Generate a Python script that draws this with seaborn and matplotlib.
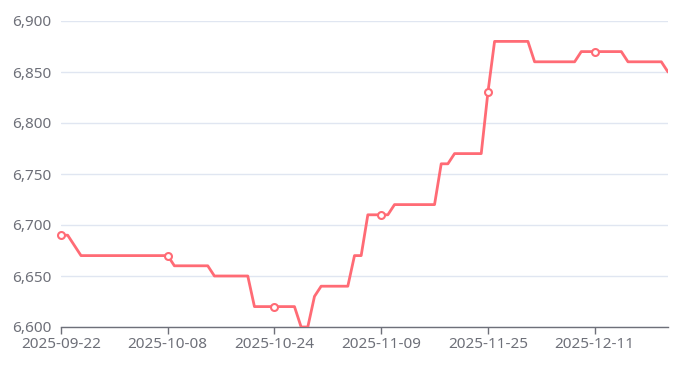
import matplotlib
matplotlib.use("Agg")
import matplotlib.pyplot as plt
import seaborn as sns
import pandas as pd
import numpy as np
from matplotlib.ticker import FuncFormatter, FixedLocator

start_date = "2025-09-22"
prices = [
    6690, 6690, 6680,
    6670, 6670, 6670, 6670, 6670, 6670, 6670, 6670, 6670, 6670, 6670, 6670, 6670, 6670,
    6660, 6660, 6660, 6660, 6660, 6660,
    6650, 6650, 6650, 6650, 6650, 6650,
    6620, 6620, 6620, 6620, 6620, 6620, 6620,
    6600, 6600,
    6630,
    6640, 6640, 6640, 6640, 6640,
    6670, 6670,
    6710, 6710, 6710, 6710,
    6720, 6720, 6720, 6720, 6720, 6720, 6720,
    6760, 6760,
    6770, 6770, 6770, 6770, 6770,
    6830,
    6880, 6880, 6880, 6880, 6880, 6880,
    6860, 6860, 6860, 6860, 6860, 6860, 6860,
    6870, 6870, 6870, 6870, 6870, 6870, 6870,
    6860, 6860, 6860, 6860, 6860, 6860,
    6850,
]
y_ticks = [6600, 6650, 6700, 6750, 6800, 6850, 6900]
label_step = 16

dates = pd.date_range(start_date, periods=len(prices), freq="D")
df = pd.DataFrame({"idx": np.arange(len(prices)), "date": dates.strftime("%Y-%m-%d"), "price": prices})

sns.set_theme(style="white")
plt.rcParams["font.family"] = ["Noto Sans", "DejaVu Sans"]

line_color = "#ff6b75"
text_color = "#6e7079"
grid_color = "#e0e6f1"

fig = plt.figure(figsize=(6.84, 3.66), dpi=100)
ax = fig.add_axes([61 / 684, 1 - 327 / 366, (668 - 61) / 684, (327 - 21) / 366])

sns.lineplot(data=df, x="idx", y="price", ax=ax, color=line_color, linewidth=2.0, zorder=3)
marked = df.iloc[::label_step]
ax.plot(marked["idx"], marked["price"], linestyle="none", marker="o", markersize=5,
        markerfacecolor="white", markeredgecolor=line_color, markeredgewidth=1.5, zorder=4,
        clip_on=False)

ax.set_xlim(0, len(prices) - 1)
ax.set_ylim(y_ticks[0], y_ticks[-1])
ax.yaxis.set_major_locator(FixedLocator(y_ticks))
ax.yaxis.set_major_formatter(FuncFormatter(lambda v, p: f"{int(v):,}"))
tick_pos = list(range(0, len(prices), label_step))
ax.set_xticks(tick_pos)
ax.set_xticklabels([df["date"][i] for i in tick_pos])

ax.grid(axis="y", color=grid_color, linewidth=1.0, zorder=0)
for s in ["top", "right", "left"]:
    ax.spines[s].set_visible(False)
ax.spines["bottom"].set_color(text_color)
ax.spines["bottom"].set_linewidth(1.0)
ax.tick_params(axis="x", colors=text_color, labelcolor=text_color, length=5, width=1,
               direction="out", pad=2, labelsize=11, bottom=True)
ax.tick_params(axis="y", colors=text_color, labelcolor=text_color, length=0, pad=7, labelsize=11, left=False)
ax.set_xlabel("")
ax.set_ylabel("")

fig.savefig("out.png", dpi=100)
